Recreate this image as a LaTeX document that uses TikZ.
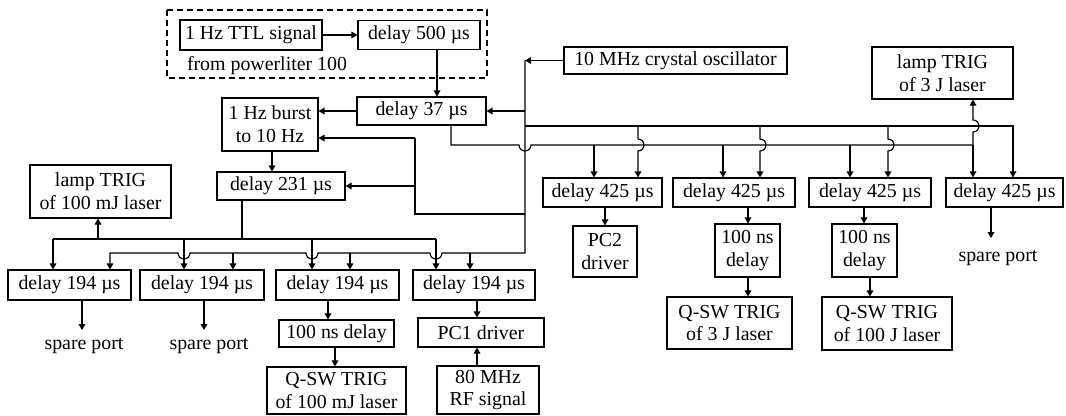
\documentclass[tikz,border=0pt]{standalone}
\usepackage{fontspec}
\setmainfont{Liberation Serif}
\usetikzlibrary{arrows.meta}
\newcommand{\fsz}{\fontsize{14.9}{17}\selectfont}
\begin{document}
\begin{tikzpicture}[x=0.75pt,y=-0.75pt,
  box/.style={draw,line width=0.85pt,inner sep=0pt,align=center,font=\fsz},
  lbl/.style={inner sep=0pt,font=\fsz},
  wire/.style={line width=0.85pt},
  arr/.style={wire,-{Triangle[length=4.5pt,width=5pt]}},
  dashbox/.style={draw,line width=0.85pt,dash pattern=on 4.5pt off 3pt}]
\useasboundingbox (0,0) rectangle (1066,415);

% dashed group
\draw[dashbox] (167,10) rectangle (487,78);
\node[box,minimum width=106.5pt,minimum height=22.5pt] (ttl) at (251,35) {1 Hz TTL signal};
\node[box,minimum width=91.5pt,minimum height=21.75pt] (d500) at (419,35) {delay 500 µs};
\node[lbl] (from) at (267,66) {from powerliter 100};

\node[box,minimum width=167.25pt,minimum height=20.25pt] (osc) at (675.5,60.5) {10 MHz crystal oscillator};
\node[box,minimum width=96.75pt,minimum height=21pt] (d37) at (421.5,111) {delay 37 µs};
\node[box,minimum width=72pt,minimum height=39.75pt] (burst) at (270,124.5) {1 Hz burst\\to 10 Hz};
\node[box,minimum width=96pt,minimum height=21pt] (d231) at (281,186) {delay 231 µs};
\node[box,minimum width=105.75pt,minimum height=39.75pt] (lamp100) at (100.5,191.5) {lamp TRIG\\of 100 mJ laser};
\node[box,minimum width=105.75pt,minimum height=39pt] (lamp3J) at (942.5,73) {lamp TRIG\\of 3 J laser};

% 425 row
\node[box,minimum width=89.25pt,minimum height=21.75pt] (d425a) at (602.5,192.5) {delay 425 µs};
\node[box,minimum width=91.5pt,minimum height=21.75pt] (d425b) at (734,192.5) {delay 425 µs};
\node[box,minimum width=91.5pt,minimum height=21.75pt] (d425c) at (870,192.5) {delay 425 µs};
\node[box,minimum width=87.75pt,minimum height=21.75pt] (d425d) at (1004.5,192.5) {delay 425 µs};
\node[box,minimum width=48pt,minimum height=38.25pt] (pc2) at (605,251.5) {PC2\\driver};
\node[box,minimum width=48.75pt,minimum height=39.75pt] (ns3J) at (747.5,250.5) {100 ns\\delay};
\node[box,minimum width=48.75pt,minimum height=39.75pt] (ns100J) at (864.5,250.5) {100 ns\\delay};
\node[box,minimum width=93.75pt,minimum height=39pt] (qsw3J) at (729.5,323) {Q-SW TRIG\\of 3 J laser};
\node[box,minimum width=97.5pt,minimum height=39.75pt] (qsw100J) at (887,323.5) {Q-SW TRIG\\of 100 J laser};
\node[lbl] (spare3) at (998,258) {spare port};

% 194 row
\node[box,minimum width=92.25pt,minimum height=22.5pt] (d194a) at (69.5,285) {delay 194 µs};
\node[box,minimum width=93pt,minimum height=22.5pt] (d194b) at (202,285) {delay 194 µs};
\node[box,minimum width=92.25pt,minimum height=22.5pt] (d194c) at (337.5,285) {delay 194 µs};
\node[box,minimum width=91.5pt,minimum height=22.5pt] (d194d) at (474,285) {delay 194 µs};
\node[box,minimum width=86.25pt,minimum height=20.25pt] (ns100mJ) at (336.5,333.5) {100 ns delay};
\node[box,minimum width=104.25pt,minimum height=35.25pt] (qsw100mJ) at (336.5,390.5) {Q-SW TRIG\\of 100 mJ laser};
\node[box,minimum width=94.5pt,minimum height=21.75pt] (pc1) at (481,332.5) {PC1 driver};
\node[box,minimum width=76.5pt,minimum height=36pt] (rf80) at (488,390) {80 MHz\\RF signal};
\node[lbl] (spare1) at (84,346) {spare port};
\node[lbl] (spare2) at (209,346) {spare port};

% junction coordinates
\coordinate (jO) at (525,60.5);
\coordinate (jT) at (525,253);
\coordinate (jL) at (415,214);
\coordinate (jB) at (415,138);
\coordinate (jC) at (525,126);
\coordinate (jF) at (1013,126);
\coordinate (jD) at (451,145);
\coordinate (jE) at (973,145);
\coordinate (xa) at (437,0);
\coordinate (xb) at (272,0);
\coordinate (a1) at (594,145);
\coordinate (a2) at (723,145);
\coordinate (a3) at (850,145);
\coordinate (b1) at (638,126);
\coordinate (b2) at (760,126);
\coordinate (b3) at (888,126);
\coordinate (jG) at (242,239);
\coordinate (g1) at (53,239);
\coordinate (g2) at (184,239);
\coordinate (g3) at (312,239);
\coordinate (g4) at (436,239);
\coordinate (gL) at (98,239);
\coordinate (h1) at (110,253);
\coordinate (h2) at (233,253);
\coordinate (h3) at (350,253);
\coordinate (h4) at (470,253);
\coordinate (s1) at (82,330);
\coordinate (s2) at (204,330);
\coordinate (s3) at (991,238);
\coordinate (xc) at (328,0);
\coordinate (xq) at (335,0);
\coordinate (xp) at (477,0);
\coordinate (xp2) at (605,0);
\coordinate (xn3) at (748,0);
\coordinate (xn1) at (864,0);
\coordinate (xn2) at (870,0);

% top connectors
\draw[arr] (ttl.east) -- (d500.west);
\draw[arr] (d500.south -| xa) -- (d37.north -| xa);
\draw[arr] (osc.west) -- (jO);
\draw[arr] (d37.east -| jO) -- (d37.east);
\draw[arr] (d37.west) -- (d37.west -| burst.east);
\draw[wire] (jT |- jL) -- (jL) -- (jB);
\draw[arr] (jB) -- (jB -| burst.east);
\draw[arr] (jL |- d231.east) -- (d231.east);
\draw[arr] (burst.south -| xb) -- (d231.north -| xb);

% 10 MHz trunk down to 194 row
\draw[arr] (jO) -- (jT) -- (442,253) arc[start angle=0,end angle=180,radius=6]
  -- (318,253) arc[start angle=0,end angle=180,radius=6]
  -- (190,253) arc[start angle=0,end angle=180,radius=6]
  -- (h1) -- (h1 |- d194a.north);
\draw[arr] (h2) -- (h2 |- d194b.north);
\draw[arr] (h3) -- (h3 |- d194c.north);
\draw[arr] (h4) -- (h4 |- d194d.north);

% 10 MHz line to 425 row
\draw[arr] (jC) -- (jF) -- (jF |- d425d.north);
\draw[arr] (b1) -- (638,139) arc[start angle=-90,end angle=90,radius=6] -- (b1 |- d425a.north);
\draw[arr] (b2) -- (760,139) arc[start angle=-90,end angle=90,radius=6] -- (b2 |- d425b.north);
\draw[arr] (b3) -- (888,139) arc[start angle=-90,end angle=90,radius=6] -- (b3 |- d425c.north);

% delay 37 output to 425 row
\draw[wire] (d37.south -| jD) -- (jD) -- (519,145) arc[start angle=180,end angle=0,radius=6] -- (jE);
\draw[arr] (a1) -- (a1 |- d425a.north);
\draw[arr] (a2) -- (a2 |- d425b.north);
\draw[arr] (a3) -- (a3 |- d425c.north);
\draw[arr] (jE) -- (jE |- d425d.north);
\draw[arr] (jE) -- (973,132) arc[start angle=90,end angle=-90,radius=6] -- (jE |- lamp3J.south);

% 425 outputs
\draw[arr] (d425a.south -| xp2) -- (pc2.north -| xp2);
\draw[arr] (d425b.south -| xn3) -- (ns3J.north -| xn3);
\draw[arr] (ns3J.south -| xn3) -- (qsw3J.north -| xn3);
\draw[arr] (d425c.south -| xn1) -- (ns100J.north -| xn1);
\draw[arr] (ns100J.south -| xn2) -- (qsw100J.north -| xn2);
\draw[arr] (s3 |- d425d.south) -- (s3);

% delay 231 output to 194 row
\draw[wire] (d231.south -| jG) -- (jG);
\draw[wire] (g1) -- (g4);
\draw[arr] (gL) -- (gL |- lamp100.south);
\draw[arr] (g1) -- (g1 |- d194a.north);
\draw[arr] (g2) -- (g2 |- d194b.north);
\draw[arr] (g3) -- (g3 |- d194c.north);
\draw[arr] (g4) -- (g4 |- d194d.north);

% 194 outputs
\draw[arr] (s1 |- d194a.south) -- (s1);
\draw[arr] (s2 |- d194b.south) -- (s2);
\draw[arr] (d194c.south -| xc) -- (ns100mJ.north -| xc);
\draw[arr] (ns100mJ.south -| xq) -- (qsw100mJ.north -| xq);
\draw[arr] (d194d.south -| xp) -- (pc1.north -| xp);
\draw[arr] (rf80.north -| xp) -- (pc1.south -| xp);
\end{tikzpicture}
\end{document}
